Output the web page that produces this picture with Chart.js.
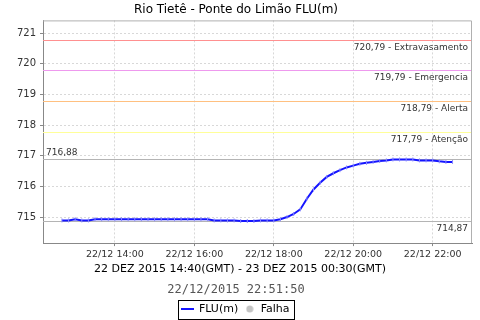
<!DOCTYPE html>
<html lang="pt">
<head>
<meta charset="UTF-8">
<title>Rio Tietê - Ponte do Limão FLU(m)</title>
<script src="https://cdn.jsdelivr.net/npm/chart.js"></script>
<style>
  html, body { margin: 0; padding: 0; background: #fff; }
</style>
</head>
<body>
<canvas id="chart" width="480" height="320"></canvas>
<script>
// leituras a cada 10 min (hora local)
const times = [
  '12:40', '12:50',
  '13:00', '13:10', '13:20', '13:30', '13:40', '13:50',
  '14:00', '14:10', '14:20', '14:30', '14:40', '14:50',
  '15:00', '15:10', '15:20', '15:30', '15:40', '15:50',
  '16:00', '16:10', '16:20', '16:30', '16:40', '16:50',
  '17:00', '17:10', '17:20', '17:30', '17:40', '17:50',
  '18:00', '18:10', '18:20', '18:30', '18:40', '18:50',
  '19:00', '19:10', '19:20', '19:30', '19:40', '19:50',
  '20:00', '20:10', '20:20', '20:30', '20:40', '20:50',
  '21:00', '21:10', '21:20', '21:30', '21:40', '21:50',
  '22:00', '22:10', '22:20', '22:30'
];
const levels = [
  714.89, 714.89,
  714.93, 714.89, 714.89, 714.93, 714.93, 714.93,
  714.93, 714.93, 714.93, 714.93, 714.93, 714.93,
  714.93, 714.93, 714.93, 714.93, 714.93, 714.93,
  714.93, 714.93, 714.93, 714.89, 714.89, 714.89,
  714.89, 714.87, 714.87, 714.87, 714.89, 714.89,
  714.89, 714.93, 715.00, 715.10, 715.25, 715.60,
  715.90, 716.12, 716.31, 716.43, 716.53, 716.62,
  716.68, 716.74, 716.77, 716.80, 716.83, 716.85,
  716.88, 716.88, 716.88, 716.88, 716.85, 716.85,
  716.85, 716.82, 716.80, 716.80
];
const xTicks = [14, 16, 18, 20, 22];
const yTicks = [715, 716, 717, 718, 719, 720, 721];
const limitValues = [720.79, 719.79, 718.79, 717.79];
const limitNames = ['Extravasamento', 'Emergencia', 'Alerta', 'Atenção'];
const limitColors = ['#ff9090', '#ee99ee', '#ffc080', '#ffff99'];
const maxLevel = 716.88;
const minLevel = 714.87;
const periodText = '22 DEZ 2015 14:40(GMT) - 23 DEZ 2015 00:30(GMT)';

const FONT = '"DejaVu Sans", sans-serif';
const toHours = s => { const p = s.split(':').map(Number); return p[0] + p[1] / 60; };
const fmt = v => v.toFixed(2).replace('.', ',');

function symbol(w, h, draw) {
  const c = document.createElement('canvas');
  c.width = w; c.height = h;
  draw(c.getContext('2d'));
  return c;
}
const lineSym = symbol(13, 2, g => { g.fillStyle = '#1414ff'; g.fillRect(0, 0, 13, 2); });
const dotSym = symbol(8, 8, g => {
  g.fillStyle = '#c4c4c4'; g.beginPath(); g.arc(4, 4, 3.5, 0, Math.PI * 2); g.fill();
});

const markers = {
  id: 'markers',
  beforeDatasetsDraw(chart) {
    const { ctx, chartArea: a, scales: { y } } = chart;
    ctx.save();
    ctx.font = '9px ' + FONT;
    ctx.lineWidth = 1;
    const hline = (v, color) => {
      const py = Math.round(y.getPixelForValue(v)) + 0.5;
      ctx.strokeStyle = color;
      ctx.beginPath(); ctx.moveTo(a.left, py); ctx.lineTo(a.right, py); ctx.stroke();
      return py;
    };
    ctx.fillStyle = '#333';
    limitValues.forEach((v, i) => {
      const py = hline(v, limitColors[i]);
      ctx.textAlign = 'right'; ctx.textBaseline = 'top';
      ctx.fillText(fmt(v) + ' - ' + limitNames[i], a.right - 4, py + 3);
    });
    let py = hline(maxLevel, '#b4b4b4');
    ctx.textAlign = 'left'; ctx.textBaseline = 'bottom';
    ctx.fillText(fmt(maxLevel), a.left + 3, py - 2);
    py = hline(minLevel, '#b4b4b4');
    ctx.textAlign = 'right'; ctx.textBaseline = 'top';
    ctx.fillText(fmt(minLevel), a.right - 4, py + 3);
    ctx.restore();
  },
  afterDraw(chart) {
    const { ctx, chartArea: a, scales: { x } } = chart;
    ctx.save();
    ctx.strokeStyle = '#b0b0b0';
    ctx.lineWidth = 1;
    ctx.beginPath();
    ctx.moveTo(a.left, a.top + 0.5); ctx.lineTo(a.right - 0.5, a.top + 0.5); ctx.lineTo(a.right - 0.5, a.bottom);
    ctx.stroke();
    // periodo (centrado no grafico todo)
    ctx.font = '11px ' + FONT;
    ctx.fillStyle = '#000';
    ctx.textAlign = 'center'; ctx.textBaseline = 'middle';
    ctx.fillText(periodText, chart.width / 2, x.bottom - 11);
    // moldura da legenda
    const hb = chart.legend.legendHitBoxes;
    const l = Math.min(...hb.map(b => b.left)) - 4;
    const r = Math.max(...hb.map(b => b.left + b.width)) + 5;
    const t = hb[0].top - 4;
    const h = hb[0].height + 8;
    ctx.strokeStyle = '#000';
    ctx.strokeRect(Math.round(l) + 0.5, Math.round(t) + 0.5, Math.round(r - l), Math.round(h));
    ctx.restore();
  }
};

new Chart(document.getElementById('chart'), {
  type: 'line',
  data: {
    datasets: [{
      label: 'FLU(m)',
      data: times.map((t, i) => ({ x: toHours(t), y: levels[i] })),
      borderColor: '#1414ff',
      borderWidth: 2,
      pointStyle: 'line',
      pointRotation: 90,
      pointRadius: 2,
      pointBorderWidth: 1,
      pointBorderColor: '#8a8aff',
      tension: 0
    }, {
      label: 'Falha',
      data: [],
      borderColor: '#c4c4c4',
      backgroundColor: '#c4c4c4'
    }]
  },
  options: {
    responsive: false,
    devicePixelRatio: 1,
    animation: false,
    layout: { padding: { left: 0, right: 8, top: 0, bottom: 0 } },
    plugins: {
      title: {
        display: true,
        text: 'Rio Tietê - Ponte do Limão FLU(m)',
        color: '#000',
        font: { family: FONT, size: 12, weight: 'normal' },
        padding: { top: 3, bottom: 3 }
      },
      subtitle: {
        display: true,
        position: 'bottom',
        text: '22/12/2015 22:51:50',
        color: '#555',
        font: { family: '"DejaVu Sans Mono", monospace', size: 12, weight: 'normal' },
        padding: { top: 3, bottom: 0 }
      },
      legend: {
        position: 'bottom',
        weight: 3000,
        maxHeight: 22.5,
        labels: {
          usePointStyle: true,
          boxWidth: 11,
          boxHeight: 11,
          padding: 6,
          color: '#000',
          font: { family: FONT, size: 11 },
          generateLabels: () => [
            { text: 'FLU(m)', pointStyle: lineSym, fontColor: '#000', datasetIndex: 0, hidden: false, lineWidth: 0 },
            { text: 'Falha', pointStyle: dotSym, fontColor: '#000', datasetIndex: 1, hidden: false, lineWidth: 0 }
          ]
        }
      },
      tooltip: { enabled: false }
    },
    scales: {
      x: {
        type: 'linear',
        min: 12.19,
        max: 22.99,
        afterBuildTicks: s => { s.ticks = xTicks.map(v => ({ value: v })); },
        afterFit: s => { s.height = 37; },
        ticks: {
          callback: v => '22/12 ' + String(v).padStart(2, '0') + ':00',
          color: '#333',
          font: { family: FONT, size: 9.5 },
          maxRotation: 0,
          autoSkip: false,
          padding: 3
        },
        grid: { color: '#d8d8d8', tickColor: '#888', tickLength: 3, tickBorderDash: [] },
        border: { color: '#888', dash: [2, 2] }
      },
      y: {
        min: 714.15,
        max: 721.42,
        afterBuildTicks: s => { s.ticks = yTicks.map(v => ({ value: v })); },
        afterFit: s => { s.width = 43; },
        ticks: {
          color: '#333',
          font: { family: FONT, size: 10 },
          padding: 4
        },
        grid: { color: '#d8d8d8', tickColor: '#888', tickLength: 3, tickBorderDash: [] },
        border: { color: '#888', dash: [2, 2] }
      }
    }
  },
  plugins: [markers]
});
</script>
</body>
</html>
